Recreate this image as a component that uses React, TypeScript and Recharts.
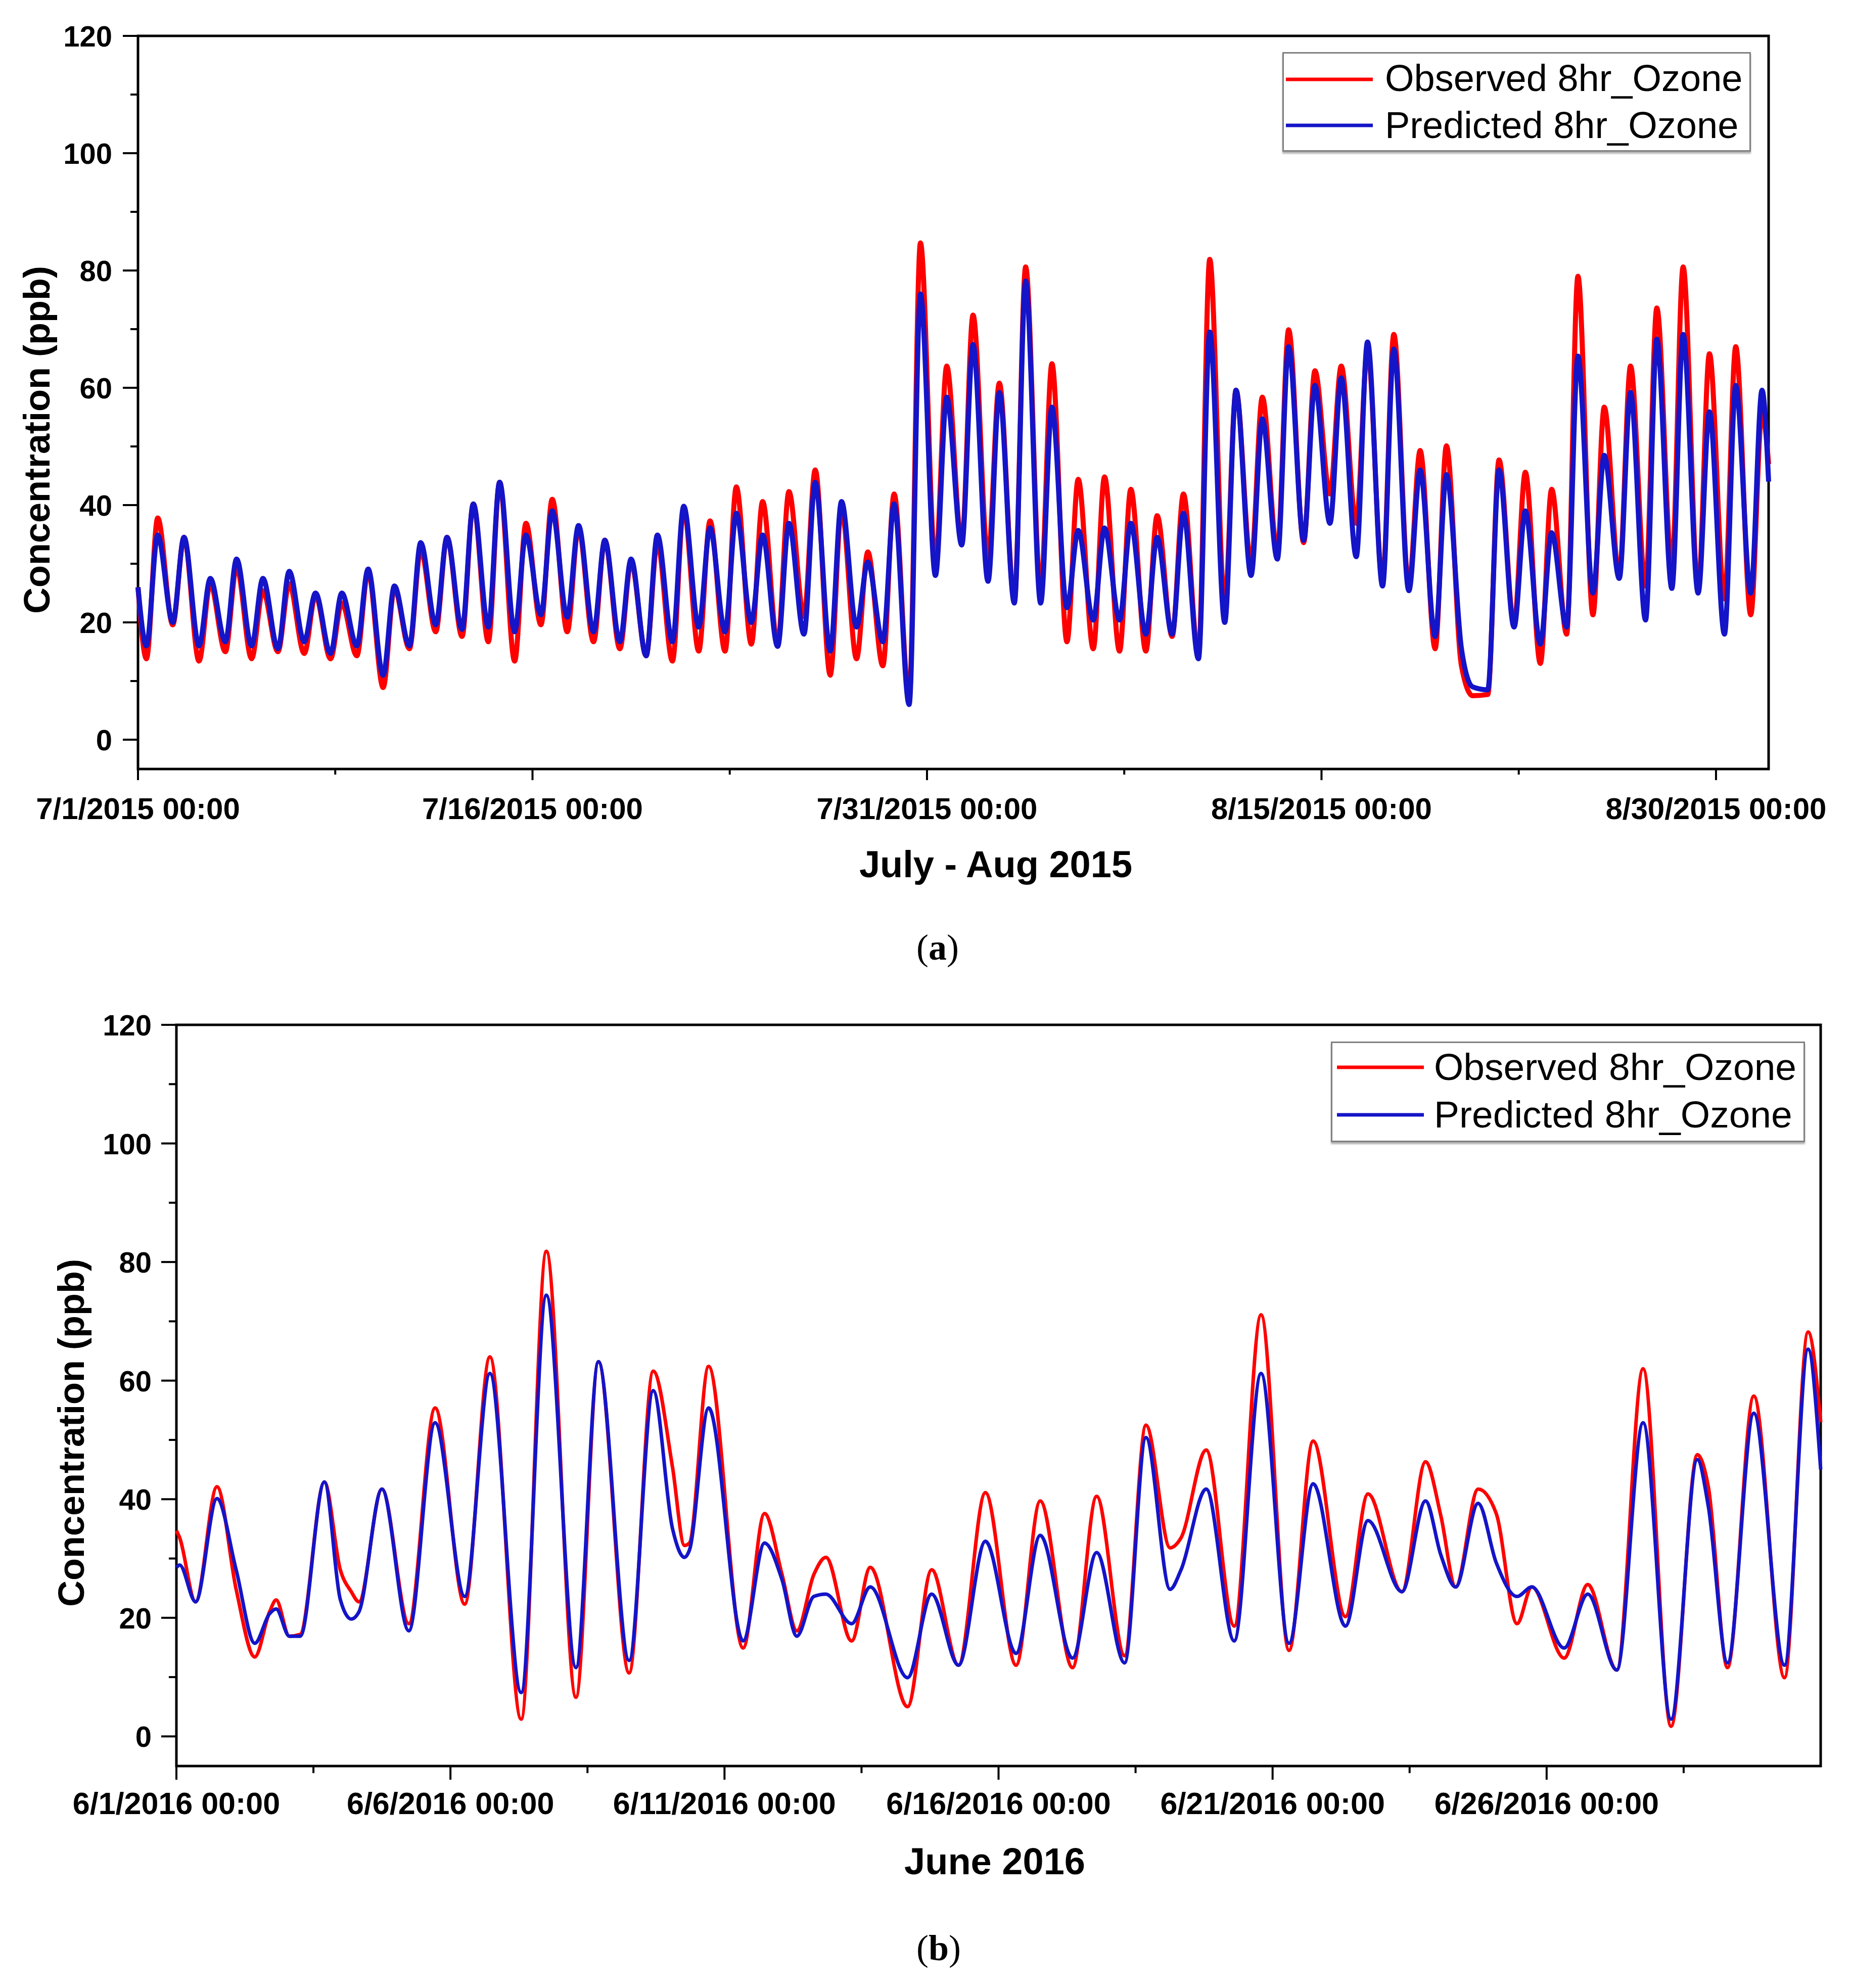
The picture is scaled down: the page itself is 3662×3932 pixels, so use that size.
import React from 'react';
import { LineChart, Line, XAxis, YAxis, ReferenceArea, Legend } from 'recharts';

const RED = '#ff0000';
const BLUE = '#1414c8';
const SANS = '"Liberation Sans", Arial, sans-serif';
const SERIF = '"Liberation Serif", "Times New Roman", serif';

// ---------- (a) July - Aug 2015, one morning low and one afternoon high per day (ppb)
const obsLowA = [13.8, 19.6, 13.4, 15, 13.8, 15, 14.7, 13.8, 14.3, 8.9, 15.5, 18.4, 17.6, 16.7, 13.4, 19.6, 18.4, 16.7, 15.5, 14.3, 13.4, 15.1, 15.1, 16.3, 16.3, 21, 11, 13.8, 12.6, 7, 30, 33.6, 31, 23.7, 25.4, 16.7, 15.5, 15.1, 15.1, 17.6, 14.3, 23, 30, 32, 33.6, 41.9, 36.9, 27, 26.2, 15.5, 12.6, 7.7, 19.6, 13, 18, 21.3, 27.9, 26.2, 29.5, 25.4, 24, 21.3];
const obsHighA = [37.8, 34.5, 26.6, 29.5, 25.4, 26.6, 24.6, 23.3, 28.7, 25.8, 32.4, 34.5, 40.2, 43.9, 36.9, 41, 36.1, 34, 30.3, 33.6, 39.4, 37.3, 43.1, 40.6, 42.3, 46, 39.4, 32, 41.9, 84.7, 63.7, 72.4, 60.8, 80.6, 64.1, 44.4, 44.8, 42.7, 38.2, 41.9, 81.9, 59.6, 58.4, 69.9, 62.9, 63.7, 66.6, 69.1, 49.3, 50.1, 7.5, 47.7, 45.6, 42.7, 79, 56.7, 63.7, 73.6, 80.6, 65.8, 67, 55.9];
const predLowA = [16, 20, 16, 16.7, 16, 15.5, 16.7, 14.7, 16, 11, 16, 19.6, 18.8, 19.2, 18.4, 21.3, 20.9, 18.4, 16.7, 14.3, 16.7, 19.2, 18.4, 20, 15.9, 18, 15.1, 19.2, 16.7, 6, 28, 33.2, 27, 23.3, 23.3, 22.5, 20.4, 20.4, 18, 18, 13.8, 20, 28, 30.8, 34, 36.9, 31.2, 26.2, 25.4, 17.6, 15.5, 8.5, 19.2, 16.3, 19.2, 25, 27.5, 20.4, 25.8, 25, 18, 25];
const predHighA = [34.9, 34.5, 27.5, 30.8, 27.5, 28.7, 25, 25, 29.1, 26.2, 33.6, 34.5, 40.2, 43.9, 34.9, 39, 36.5, 34, 30.8, 34.9, 39.8, 36.1, 38.6, 34.9, 36.9, 43.9, 40.6, 30.3, 40.2, 76, 58.4, 67.4, 59.2, 78.2, 56.7, 35.7, 36.1, 36.9, 34.5, 38.6, 69.5, 59.6, 54.7, 67, 60.4, 61.7, 67.8, 66.6, 46, 45.2, 9, 46, 39, 35.3, 65.4, 48.5, 59.2, 68.3, 69.1, 55.9, 60.4, 59.6];
const startA = { obs: 26, pred: 26 };
const endA = { obs: 47, pred: 44 };
const LOW_HOUR = 7.7;
const HIGH_HOUR = 18;

const dataA: any[] = [{ t: 0, ...startA }];
obsLowA.forEach((_, d) => {
  dataA.push({ t: d + LOW_HOUR / 24, obs: obsLowA[d], pred: predLowA[d] });
  dataA.push({ t: d + HIGH_HOUR / 24, obs: obsHighA[d], pred: predHighA[d] });
});
dataA.push({ t: obsLowA.length, ...endA });

const ticksA = [0, 7.5, 15, 22.5, 30, 37.5, 45, 52.5, 60];
const labelsA: Record<string, string> = {
  '0': '7/1/2015 00:00',
  '15': '7/16/2015 00:00',
  '30': '7/31/2015 00:00',
  '45': '8/15/2015 00:00',
  '60': '8/30/2015 00:00',
};

// ---------- (b) June 2016 (time in days since 6/1 00:00)
const timeB = [0, 0.06, 0.35, 0.74, 1.09, 1.43, 1.7, 1.82, 2.06, 2.26, 2.7, 2.99, 3.19, 3.33, 3.75, 4.24, 4.72, 5.26, 5.72, 6.29, 6.75, 7.29, 7.7, 8.26, 8.7, 9.05, 9.27, 9.36, 9.71, 10.34, 10.73, 11.05, 11.32, 11.63, 11.85, 12.32, 12.66, 13.34, 13.78, 14.27, 14.76, 15.32, 15.76, 16.35, 16.79, 17.3, 17.69, 18.13, 18.33, 18.79, 19.3, 19.79, 20.3, 20.74, 21.33, 21.74, 22.36, 22.79, 23.07, 23.34, 23.75, 24.08, 24.46, 24.73, 25.32, 25.75, 26.28, 26.76, 27.27, 27.75, 27.95, 28.3, 28.78, 29.34, 29.77, 30];
const obsB = [34.7, 33.5, 22.7, 42.1, 24.8, 13.4, 21, 23, 16.9, 17.2, 42.9, 28.1, 24.4, 22.7, 41.7, 19, 55.4, 22.3, 64, 2.9, 81.8, 6.6, 63.2, 10.7, 61.6, 45.5, 32.2, 32.6, 62.4, 14.9, 37.6, 27.3, 17.8, 27.3, 30.2, 16.1, 28.5, 5, 28.1, 12, 41.1, 12, 39.7, 11.6, 40.5, 13.6, 52.5, 31.8, 33.5, 48.3, 18.6, 71.1, 14.5, 49.8, 20.2, 40.9, 24.4, 46.3, 37.2, 25.2, 41.7, 37.6, 19, 25.2, 13.2, 25.6, 11.2, 62, 1.7, 47.5, 42.1, 11.6, 57.4, 9.9, 68.2, 53];
const predB = [28.5, 28.9, 22.7, 40.1, 28.1, 15.7, 20.7, 21.5, 16.9, 16.9, 42.9, 23.1, 19.8, 21, 41.7, 17.8, 52.9, 23.6, 61.2, 7.4, 74.4, 11.6, 63.2, 12.8, 58.3, 35.1, 30.2, 31.4, 55.4, 16.1, 32.6, 26.4, 16.9, 23.6, 24, 19, 25.2, 9.9, 24, 12, 32.9, 14, 33.9, 13.2, 31, 12.4, 50.4, 24.8, 28.1, 41.7, 16.1, 61.2, 15.7, 42.6, 18.6, 36.4, 24.4, 39.7, 30.6, 25.2, 39.3, 29.3, 23.6, 25.2, 14.9, 24, 11.2, 52.9, 2.9, 46.7, 38.8, 12.4, 54.5, 12, 65.3, 45];
const dataB = timeB.map((t, i) => ({ t, obs: obsB[i], pred: predB[i] }));

const ticksB = [0, 2.5, 5, 7.5, 10, 12.5, 15, 17.5, 20, 22.5, 25, 27.5];
const labelsB: Record<string, string> = {
  '0': '6/1/2016 00:00',
  '5': '6/6/2016 00:00',
  '10': '6/11/2016 00:00',
  '15': '6/16/2016 00:00',
  '20': '6/21/2016 00:00',
  '25': '6/26/2016 00:00',
};

const yTicks = [0, 10, 20, 30, 40, 50, 60, 70, 80, 90, 100, 110, 120];
const yLabels = [0, 20, 40, 60, 80, 100, 120];

const makeXTick = (labels: Record<string, string>, major: number, minor: number, base: number, fs: number) =>
  (props: any) => {
    const { x, y, payload } = props;
    const label = labels[String(payload.value)];
    return (
      <g>
        <line x1={x} x2={x} y1={y} y2={y + (label ? major : minor)} stroke="#000" strokeWidth={4} />
        {label && (
          <text x={x} y={y + base} textAnchor="middle" fontFamily={SANS} fontWeight="bold" fontSize={fs} fill="#000">
            {label}
          </text>
        )}
      </g>
    );
  };

const makeYTick = (dx: number) => (props: any) => {
  const { x, y, payload } = props;
  const labelled = yLabels.includes(payload.value);
  return (
    <g>
      <line x1={x - (labelled ? 30 : 15)} x2={x} y1={y} y2={y} stroke="#000" strokeWidth={4} />
      {labelled && (
        <text x={x + dx} y={y + 21} textAnchor="end" fontFamily={SANS} fontWeight="bold" fontSize={58} fill="#000">
          {payload.value}
        </text>
      )}
    </g>
  );
};

const makeLegend = (fs: number, lineX: number, textX: number, rowY: number[], baseY: number[]) => (props: any) => {
  const items = props.payload || [];
  return (
    <div
      style={{
        width: '100%',
        height: '100%',
        boxSizing: 'border-box',
        border: '3px solid #808080',
        background: '#fff',
        boxShadow: '0 4px 3px rgba(0,0,0,0.3)',
      }}
    >
      <svg width="100%" height="100%" style={{ display: 'block' }}>
        {items.map((it: any, i: number) => (
          <g key={it.value}>
            <line x1={lineX} x2={lineX + 172} y1={rowY[i]} y2={rowY[i]} stroke={it.color} strokeWidth={7} />
            <text x={textX} y={baseY[i]} fontFamily={SANS} fontSize={fs} fill="#000">
              {it.value}
            </text>
          </g>
        ))}
      </svg>
    </div>
  );
};

function Panel(p: any) {
  return (
    <LineChart width={3662} height={p.height} data={p.data} margin={{ top: p.top, right: p.right, bottom: 0, left: 0 }}>
      <XAxis
        type="number"
        dataKey="t"
        domain={[0, p.xMax]}
        ticks={p.ticks}
        interval={0}
        height={p.height - p.plotBottom}
        axisLine={false}
        tickLine={false}
        tickSize={0}
        tickMargin={0}
        tick={makeXTick(p.labels, p.major, p.minor, p.tickBase, p.tickFont)}
        label={() => (
          <g>
            <text x={p.titleX} y={p.titleY} textAnchor="middle" fontFamily={SANS} fontWeight="bold" fontSize={74} fill="#000">
              {p.title}
            </text>
            <text x={p.capX} y={p.capY} textAnchor="middle" fontFamily={SERIF} fontSize={72} fill="#000">
              (<tspan fontWeight="bold">{p.caption}</tspan>)
            </text>
          </g>
        )}
      />
      <YAxis
        type="number"
        domain={[-5, 120]}
        ticks={yTicks}
        interval={0}
        width={p.yWidth}
        axisLine={false}
        tickLine={false}
        tickSize={0}
        tickMargin={0}
        tick={makeYTick(p.yLabelDx)}
        label={() => (
          <text
            x={p.yTitleX}
            y={p.yTitleY}
            transform={`rotate(-90, ${p.yTitleX}, ${p.yTitleY})`}
            textAnchor="middle"
            fontFamily={SANS}
            fontWeight="bold"
            fontSize={72}
            fill="#000"
          >
            Concentration (ppb)
          </text>
        )}
      />
      <Line type="monotone" dataKey="obs" name="Observed 8hr_Ozone" stroke={RED} strokeWidth={p.lineWidth} dot={false} activeDot={false} isAnimationActive={false} />
      <Line type="monotone" dataKey="pred" name="Predicted 8hr_Ozone" stroke={BLUE} strokeWidth={p.lineWidth} dot={false} activeDot={false} isAnimationActive={false} />
      <ReferenceArea x1={0} x2={p.xMax} y1={-5} y2={120} fill="none" fillOpacity={0} stroke="#000" strokeWidth={5} ifOverflow="visible" />
      <Legend
        layout="vertical"
        align="center"
        verticalAlign="middle"
        content={p.legend}
        wrapperStyle={{ left: p.legendBox[0], top: p.legendBox[1], width: p.legendBox[2], height: p.legendBox[3] }}
      />
    </LineChart>
  );
}

export default function App() {
  return (
    <div style={{ width: 3662, height: 3932, background: '#fff', position: 'relative' }}>
      <style>{'body{margin:0;background:#fff}'}</style>
      <Panel
        data={dataA}
        height={1960}
        top={71}
        right={163}
        plotBottom={1521}
        yWidth={273}
        xMax={62}
        ticks={ticksA}
        labels={labelsA}
        major={22}
        minor={11}
        tickBase={99}
        tickFont={60}
        yLabelDx={-51}
        title="July - Aug 2015"
        titleX={1970}
        titleY={1735}
        caption="a"
        capX={1855}
        capY={1898}
        yTitleX={98}
        yTitleY={870}
        lineWidth={10}
        legendBox={[2537, 103, 927, 197]}
        legend={makeLegend(74, 4, 200, [51, 142], [74, 167])}
      />
      <Panel
        data={dataB}
        height={1972}
        top={67}
        right={60}
        plotBottom={1533}
        yWidth={349}
        xMax={30}
        ticks={ticksB}
        labels={labelsB}
        major={27}
        minor={14}
        tickBase={95}
        tickFont={61}
        yLabelDx={-49}
        title="June 2016"
        titleX={1968}
        titleY={1747}
        caption="b"
        capX={1857}
        capY={1917}
        yTitleX={166}
        yTitleY={874}
        lineWidth={7}
        legendBox={[2633, 100, 938, 199]}
        legend={makeLegend(75, 9, 201, [48, 142], [73, 167])}
      />
    </div>
  );
}
